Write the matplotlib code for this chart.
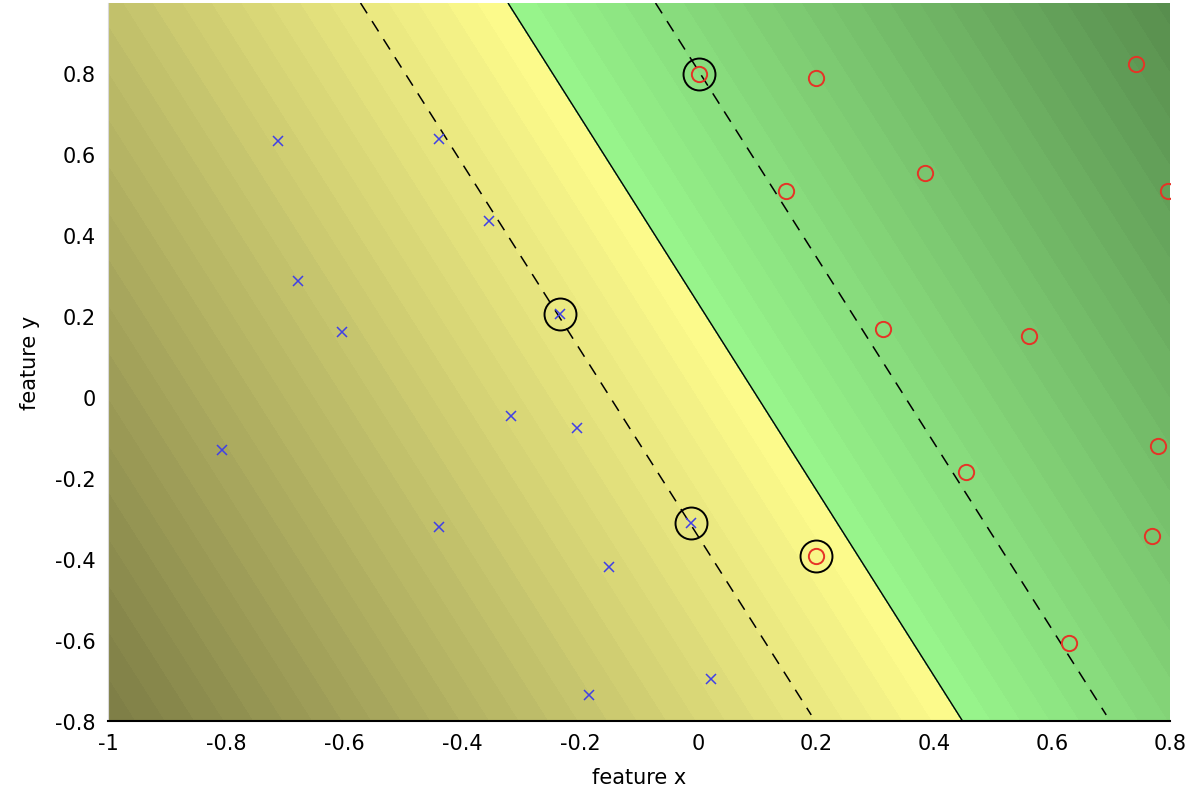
import numpy as np
import matplotlib
matplotlib.use('Agg')
import matplotlib.pyplot as plt
from matplotlib.colors import LinearSegmentedColormap, TwoSlopeNorm

# training points
neg_x = [-0.712, -0.439, -0.354, -0.678, -0.603, -0.234, -0.317, -0.205, -0.807, -0.439, -0.012, -0.151, -0.185, 0.022]
neg_y = [0.632, 0.637, 0.435, 0.286, 0.160, 0.205, -0.047, -0.077, -0.131, -0.321, -0.311, -0.420, -0.736, -0.696]
pos_x = [0.002, 0.200, 0.742, 0.149, 0.385, 0.797, 0.314, 0.561, 0.454, 0.780, 0.769, 0.200, 0.629]
pos_y = [0.798, 0.788, 0.822, 0.509, 0.553, 0.509, 0.168, 0.151, -0.185, -0.121, -0.343, -0.393, -0.607]

# support vectors
sv_x = [-0.234, -0.012, 0.002, 0.200]
sv_y = [0.205, -0.311, 0.798, -0.393]

# linear decision function f = w1*x + w2*y + b
w1 = 4.0
w2 = 1.738
b = -0.403

xmin, xmax = -1.0, 0.8
ymin, ymax = -0.8, 0.973

plt.rcParams['font.family'] = ['DejaVu Sans']

fig = plt.figure(figsize=(12.02, 8.04), dpi=100)
ax = fig.add_axes([0.0899, 0.102, 0.8835, 0.893])

gx, gy = np.meshgrid(np.linspace(xmin, xmax, 400), np.linspace(ymin, ymax, 400))
F = w1*gx + w2*gy + b
fmin, fmax = F.min(), F.max()

olive = (125/255, 125/255, 70/255)
yellow = (255/255, 252/255, 140/255)
lgreen = (152/255, 246/255, 140/255)
dgreen = (88/255, 142/255, 78/255)
cmap = LinearSegmentedColormap.from_list('svm', [(0, olive), (0.4999, yellow), (0.5001, lgreen), (1, dgreen)])
norm = TwoSlopeNorm(vmin=fmin, vcenter=0, vmax=fmax)

levels = np.concatenate([np.arange(0, fmin - 0.2, -0.2)[::-1], np.arange(0.2, fmax + 0.2, 0.2)])
cs = ax.contourf(gx, gy, F, levels=levels, cmap=cmap, norm=norm)
cs.set_edgecolor('face')
cs.set_linewidth(0.6)

ax.contour(gx, gy, F, levels=[0], colors='k', linewidths=1.0)
# margins computed on the data range only
mx, my = np.meshgrid(np.linspace(xmin, xmax, 400), np.linspace(-0.785, ymax, 400))
M = w1*mx + w2*my + b
ax.contour(mx, my, M, levels=[-1, 1], colors='k', linewidths=1.1, linestyles=[(0, (8, 6))])

ax.plot(neg_x, neg_y, 'x', color=(0.25, 0.25, 0.9), ms=7, mew=1.1)
ax.plot(pos_x, pos_y, 'o', mfc='none', mec=(0.9, 0.2, 0.15), ms=11, mew=1.4)
ax.plot(sv_x, sv_y, 'o', mfc='none', mec='k', ms=23, mew=1.4)

ax.set_xlim(xmin, xmax)
ax.set_ylim(ymin, ymax)
ax.set_xticks(np.arange(-1, 0.81, 0.2))
ax.set_xticklabels(['-1', '-0.8', '-0.6', '-0.4', '-0.2', '0', '0.2', '0.4', '0.6', '0.8'])
ax.set_yticks(np.arange(-0.8, 0.81, 0.2))
ax.set_yticklabels(['-0.8', '-0.6', '-0.4', '-0.2', '0', '0.2', '0.4', '0.6', '0.8'])
ax.tick_params(labelsize=15, length=0, pad=9)
for s in ['top', 'right']:
    ax.spines[s].set_visible(False)
ax.spines['left'].set_color('#d8d8d8')
ax.spines['bottom'].set_linewidth(1.5)
ax.set_xlabel('feature x', fontsize=15, labelpad=10)
ax.set_ylabel('feature y', fontsize=15, labelpad=11)

fig.savefig('out.png', dpi=100)
